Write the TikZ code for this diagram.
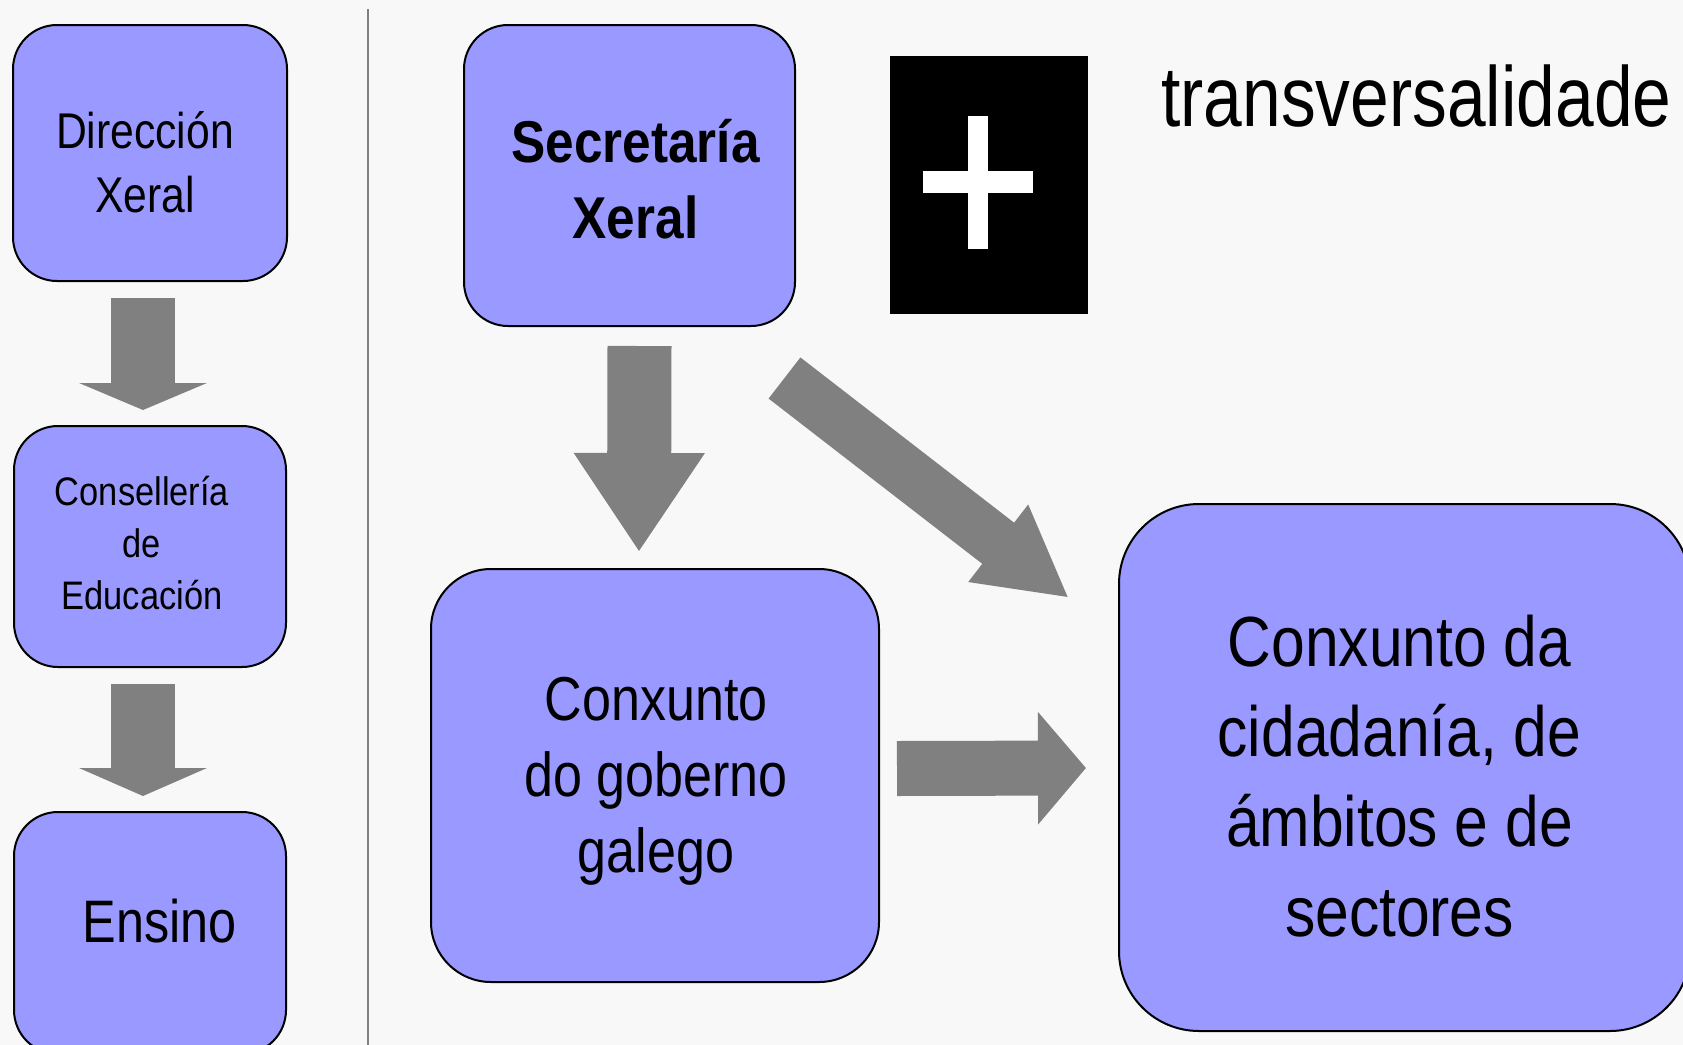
\documentclass[tikz,border=0pt]{standalone}
\usepackage{fontspec}
\setmainfont{Liberation Sans}
\usetikzlibrary{positioning,calc,arrows.meta}
\definecolor{caixaazul}{HTML}{9999FF}
\definecolor{fondo}{HTML}{F8F8F8}
\newcommand{\letra}[3]{\fontsize{#1}{#2}\selectfont\addfontfeatures{FakeStretch=#3}}
\tikzset{caixa/.style={rectangle,rounded corners=22pt,fill=caixaazul,draw,line width=1pt,inner sep=0pt},
         texto/.style={inner sep=0pt,align=center},
         frecha/.style={draw=gray,line width=#1},
            }

\begin{document}
\begin{tikzpicture}[x=0.5pt,y=-0.5pt]
    \fill[fondo] (0,0) rectangle (1683,1045);
    \useasboundingbox (0,0) rectangle (1683,1045);
    \clip (0,0) rectangle (1683,1045);

    \draw[gray,line width=1.2pt] (368,9) -- (368,1045);

    \node[caixa,minimum width=137pt,minimum height=128pt] (dx) at (150,153) {};
    \node[caixa,minimum width=136pt,minimum height=120.5pt] (cons) [below=71.5pt of dx] {};
    \node[caixa,minimum width=136pt,minimum height=121pt] (ens) [below=71.5pt of cons] {};
    \node[texto,font=\letra{25.1}{32}{0.85}] (dx txt) at ($(dx)+(-5,9)$) {Dirección\\Xeral};
    \node[texto,font=\letra{19.9}{26}{0.865}] (cons txt) at ($(cons)+(-8,-3)$) {Consellería\\de\\Educación};
    \node[texto,font=\letra{30}{36}{0.84}] (ens txt) at (160,921.5) {Ensino};

    \node[caixa,minimum width=165.5pt,minimum height=150.5pt] (sx) at (629.5,175.5) {};
    \node[caixa,rounded corners=30pt,minimum width=224pt,minimum height=206.5pt] (gob) at (655,775.5) {};
    \node[caixa,rounded corners=40pt,minimum width=285.5pt,minimum height=263.5pt] (cid) at (1404.5,767.5) {};
    \node[texto,font=\bfseries\letra{29.5}{38}{0.87}] (sx txt) at ($(sx)+(6,3.5)$) {Secretaría\\Xeral};
    \node[texto,font=\letra{31}{38}{0.84}] (gob txt) at ($(gob)+(1,5.5)$) {Conxunto\\do goberno\\galego};
    \node[texto,font=\letra{35.5}{45}{0.853}] (cid txt) at ($(cid)+(-5,8.5)$) {Conxunto da\\cidadanía, de\\ámbitos e de\\sectores};

    \node[fill=black,minimum width=99pt,minimum height=129pt,inner sep=0pt] (mas) at (989,185) {};
    \fill[white] (968,116) rectangle (988,249);
    \fill[white] (923,171) rectangle (1033,193);
    \node[anchor=base west,inner sep=0pt,font=\letra{42.6}{50}{0.816}] (trans) at (1161,126) {transversalidade};

    \draw[frecha=32pt,-{Triangle[length=13.5pt,width=63.5pt]}] ($(dx.south)+(-7,16)$) -- ($(cons.north)+(-7,-15)$);
    \draw[frecha=32pt,-{Triangle[length=14pt,width=63.5pt]}] ($(cons.south)+(-7,16)$) -- ($(ens.north)+(-7,-15)$);
    \draw[frecha=32pt,-{Triangle[length=49.5pt,width=62pt]}] ($(sx.south)+(10,19)$) -- ($(gob.north)+(-16,-16)$);
    \draw[frecha=26pt,-{Triangle[length=44.75pt,width=45.5pt]}] ($(sx.south east)+(-11.5,51)$) -- ($(cid.north west)+(-49,95)$);
    \draw[frecha=27.5pt,-{Triangle[length=24pt,width=55pt]}] ($(gob.east)+(17,-7)$) -- ($(cid.west)+(-32,0.5)$);
\end{tikzpicture}
\end{document}
